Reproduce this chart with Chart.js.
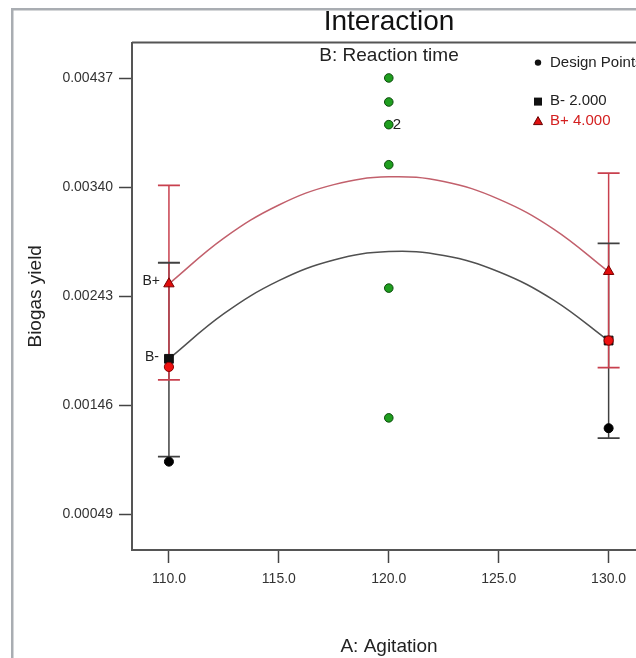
<!DOCTYPE html>
<html><head><meta charset="utf-8">
<script src="https://cdn.jsdelivr.net/npm/chart.js@4.4.0/dist/chart.umd.min.js"></script>
<style>
html,body{margin:0;padding:0;background:#fff;overflow:hidden;width:636px;height:658px}
canvas{position:absolute;left:0;top:0}
</style></head>
<body><canvas id="c" width="660" height="658"></canvas>
<script>
// ---- data ----
const agitationTicks = [110, 115, 120, 125, 130];
const agitationTickLabels = ['110.0', '115.0', '120.0', '125.0', '130.0'];
const yieldTicks = [0.00049, 0.00146, 0.00243, 0.00340, 0.00437];
const yieldTickLabels = ['0.00049', '0.00146', '0.00243', '0.00340', '0.00437'];

const curveX = [110, 112.5, 115, 117.5, 120, 122.5, 125, 127.5, 130];
const curveBPlus = [0.002542, 0.002949, 0.003244, 0.003426, 0.003495, 0.003453, 0.003297, 0.003030, 0.002650];
const curveBMinus = [0.001874, 0.002276, 0.002570, 0.002754, 0.002829, 0.002794, 0.002650, 0.002397, 0.002034];

const centerX = [120, 120, 120, 120, 120, 120];
const centerY = [0.004376, 0.004162, 0.003960, 0.003603, 0.002504, 0.001348];

const edgeX = [110, 130];
const designBMinus = [0.000958, 0.001256];
const designBPlus = [0.001802, 0.002037];
const predBMinus = [0.001874, 0.002037];
const predBPlus = [0.002542, 0.002652];
const errLowBMinus = [0.001003, 0.001167];
const errHighBMinus = [0.002730, 0.002903];
const errLowBPlus = [0.001686, 0.001796];
const errHighBPlus = [0.003419, 0.003529];

// ---- helpers ----
const FONT = "'Liberation Sans', Arial, sans-serif";
Chart.defaults.font.family = FONT;
const pts = (xs, ys) => xs.map((x, i) => ({x: x, y: ys[i]}));
const errLine = (xs, lo, hi) => {
  const out = [];
  xs.forEach((x, i) => { out.push({x: x, y: lo[i]}, {x: x, y: hi[i]}, {x: x, y: null}); });
  return out;
};
const caps = (xs, lo, hi) => pts(xs, lo).concat(pts(xs, hi));

const RED_LINE = '#c2606c';
const GREY_LINE = '#505050';
const RED_BAR = '#c8404e';
const GREY_BAR = '#404040';

const overlay = {
  id: 'overlay',
  beforeDraw(chart) {
    const ctx = chart.ctx;
    ctx.save();
    ctx.fillStyle = '#ffffff';
    ctx.fillRect(0, 0, chart.width, chart.height);
    ctx.fillStyle = '#a9adb2';
    ctx.fillRect(11, 8, chart.width, 2.5);
    ctx.fillRect(11, 8, 2.5, chart.height);
    ctx.restore();
  },
  afterDraw(chart) {
    const {ctx, chartArea: a, scales: {x, y}} = chart;
    ctx.save();
    // top border of plot box
    ctx.strokeStyle = '#555';
    ctx.lineWidth = 2;
    ctx.beginPath();
    ctx.moveTo(a.left, a.top);
    ctx.lineTo(a.right + 5, a.top);
    ctx.stroke();

    // factor title inside plot
    ctx.fillStyle = '#222';
    ctx.font = '19px ' + FONT;
    ctx.textAlign = 'center';
    ctx.textBaseline = 'middle';
    ctx.fillText('B: Reaction time', (a.left + a.right) / 2, a.top + 13);

    // legend
    const lx = a.right - 108, tx = a.right - 96;
    ctx.font = '15px ' + FONT;
    ctx.textAlign = 'left';
    ctx.fillStyle = '#111';
    ctx.beginPath(); ctx.arc(lx, a.top + 20, 3.2, 0, Math.PI * 2); ctx.fill();
    ctx.fillStyle = '#222';
    ctx.fillText('Design Points', tx, a.top + 20);
    ctx.fillStyle = '#111';
    ctx.fillRect(lx - 4, a.top + 55, 8, 8);
    ctx.fillStyle = '#222';
    ctx.fillText('B- 2.000', tx, a.top + 58);
    ctx.fillStyle = '#e01010';
    ctx.strokeStyle = '#600';
    ctx.lineWidth = 1;
    ctx.beginPath();
    ctx.moveTo(lx, a.top + 74); ctx.lineTo(lx + 4.5, a.top + 82); ctx.lineTo(lx - 4.5, a.top + 82); ctx.closePath();
    ctx.fill(); ctx.stroke();
    ctx.fillStyle = '#d42020';
    ctx.fillText('B+ 4.000', tx, a.top + 78);

    // point annotations
    ctx.fillStyle = '#222';
    ctx.font = '14px ' + FONT;
    ctx.textAlign = 'right';
    ctx.fillText('B+', x.getPixelForValue(edgeX[0]) - 9, y.getPixelForValue(predBPlus[0]) - 3);
    ctx.fillText('B-', x.getPixelForValue(edgeX[0]) - 10, y.getPixelForValue(predBMinus[0]) - 2);
    ctx.font = '15px ' + FONT;
    ctx.textAlign = 'left';
    ctx.fillText('2', x.getPixelForValue(centerX[2]) + 4, y.getPixelForValue(centerY[2]));
    ctx.restore();
  }
};

new Chart(document.getElementById('c'), {
  type: 'scatter',
  data: {
    datasets: [
      {label: 'B+ curve', data: pts(curveX, curveBPlus), showLine: true, tension: 0.4,
       borderColor: RED_LINE, borderWidth: 1.5, pointRadius: 0, order: 11},
      {label: 'B- curve', data: pts(curveX, curveBMinus), showLine: true, tension: 0.4,
       borderColor: GREY_LINE, borderWidth: 1.5, pointRadius: 0, order: 12},
      {label: 'B- error', data: errLine(edgeX, errLowBMinus, errHighBMinus), showLine: true, spanGaps: false,
       borderColor: GREY_BAR, borderWidth: 1.5, pointRadius: 0, order: 10},
      {label: 'B+ error', data: errLine(edgeX, errLowBPlus, errHighBPlus), showLine: true, spanGaps: false,
       borderColor: RED_BAR, borderWidth: 1.5, pointRadius: 0, order: 9},
      {label: 'B- caps', data: caps(edgeX, errLowBMinus, errHighBMinus), pointStyle: 'line',
       pointRadius: 11, borderColor: GREY_BAR, borderWidth: 1.8, order: 8},
      {label: 'B+ caps', data: caps(edgeX, errLowBPlus, errHighBPlus), pointStyle: 'line',
       pointRadius: 11, borderColor: RED_BAR, borderWidth: 1.8, order: 7},
      {label: 'Center points', data: pts(centerX, centerY), pointStyle: 'circle', pointRadius: 4.3,
       backgroundColor: '#1f9e1f', borderColor: '#0b4a0b', borderWidth: 1, order: 6},
      {label: 'B- predicted', data: pts(edgeX, predBMinus), pointStyle: 'rect', pointRadius: 6.2,
       backgroundColor: '#111', borderColor: '#111', borderWidth: 1, order: 5},
      {label: 'B- design', data: pts(edgeX, designBMinus), pointStyle: 'circle', pointRadius: 4.5,
       backgroundColor: '#000', borderColor: '#000', borderWidth: 1, order: 4},
      {label: 'B+ predicted', data: pts(edgeX, predBPlus), pointStyle: 'triangle', pointRadius: 6,
       backgroundColor: '#e00c0c', borderColor: '#7a0000', borderWidth: 1, order: 3},
      {label: 'B+ design', data: pts(edgeX, designBPlus), pointStyle: 'circle', pointRadius: 4.6,
       backgroundColor: '#ee1212', borderColor: '#8a0000', borderWidth: 1, order: 2}
    ]
  },
  options: {
    responsive: false,
    animation: false,
    events: [],
    layout: {padding: {left: 0, right: 14, top: 0, bottom: 0}},
    plugins: {
      legend: {display: false},
      tooltip: {enabled: false},
      title: {display: true, text: 'Interaction', fullSize: false, color: '#111',
              font: {size: 28, weight: 'normal', family: FONT}, padding: {top: 5, bottom: 4}}
    },
    scales: {
      x: {
        type: 'linear', min: 108.32, max: 131.7,
        afterBuildTicks: s => { s.ticks = agitationTicks.map(v => ({value: v})); },
        afterFit: s => { s.height = 108; },
        ticks: {callback: (v, i) => agitationTickLabels[i], color: '#333', font: {size: 14}, padding: 8, maxRotation: 0},
        grid: {drawOnChartArea: false, tickLength: 13, tickColor: '#444', tickWidth: 1.5},
        border: {color: '#555', width: 2},
        title: {display: true, text: 'A: Agitation', color: '#222', font: {size: 19}, padding: {top: 0, bottom: 0}}
      },
      y: {
        type: 'linear', min: 0.000171, max: 0.004691,
        afterBuildTicks: s => { s.ticks = yieldTicks.map(v => ({value: v})); },
        afterFit: s => { s.width = 132; },
        ticks: {callback: (v, i) => yieldTickLabels[i], color: '#333', font: {size: 14}, padding: 6},
        grid: {drawOnChartArea: false, tickLength: 13, tickColor: '#444', tickWidth: 1.5},
        border: {color: '#555', width: 2},
        title: {display: true, text: 'Biogas yield', color: '#222', font: {size: 19}, padding: {top: 24, bottom: 0}}
      }
    }
  },
  plugins: [overlay]
});
</script>
</body></html>
